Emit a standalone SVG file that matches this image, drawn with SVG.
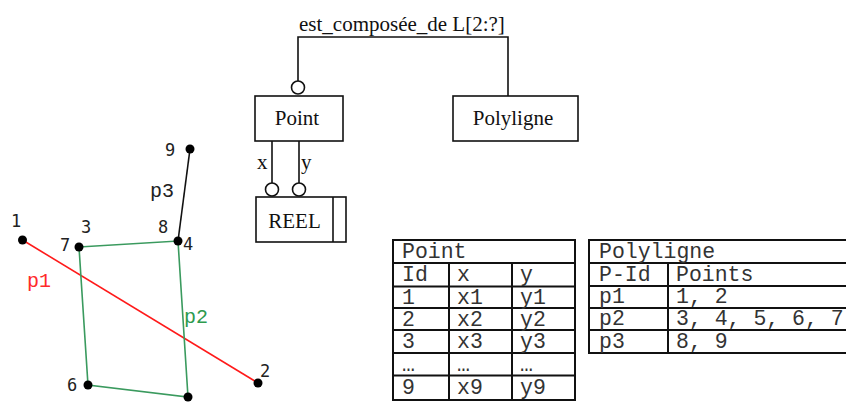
<svg xmlns="http://www.w3.org/2000/svg" width="846" height="403" viewBox="0 0 846 403">
  <style>
    .er { font-family: "Liberation Serif", serif; font-size: 21px; fill: #111; }
    .box { fill: #fff; stroke: #111; stroke-width: 1.6; }
    .wire { fill: none; stroke: #111; stroke-width: 1.6; }
    .opt { fill: #fff; stroke: #111; stroke-width: 1.6; }
    .tbl { font-family: "Liberation Mono", monospace; font-size: 21.5px; fill: #333; }
    .grid { fill: none; stroke: #111; stroke-width: 2; }
    .num { font-family: "DejaVu Sans Mono", monospace; font-size: 17px; fill: #222; }
    .pl { font-family: "Liberation Mono", monospace; font-size: 20px; }
    .dot { fill: #000; }
  </style>

  <!-- EXPRESS-G schema: connectors -->
  <g id="connectors">
    <polyline class="wire" points="298,81 298,37 508,37 508,96"/>
    <circle class="opt" cx="298" cy="87.5" r="6.5"/>
    <line class="wire" x1="272" y1="141" x2="272" y2="183"/>
    <line class="wire" x1="299" y1="141" x2="299" y2="183"/>
    <circle class="opt" cx="272" cy="189.5" r="6.5"/>
    <circle class="opt" cx="299" cy="189.5" r="6.5"/>
    <text class="er" x="299" y="31">est_composée_de L[2:?]</text>
    <text class="er" x="257" y="169">x</text>
    <text class="er" x="301" y="169">y</text>
  </g>

  <g id="point-entity">
    <rect class="box" x="255" y="96" width="88" height="45"/>
    <text class="er" x="297" y="125" text-anchor="middle">Point</text>
  </g>

  <g id="polyligne-entity">
    <rect class="box" x="453" y="96" width="125" height="45"/>
    <text class="er" x="513" y="125" text-anchor="middle">Polyligne</text>
  </g>

  <g id="reel-type">
    <rect class="box" x="256" y="197" width="90" height="45"/>
    <line class="wire" x1="333" y1="197" x2="333" y2="242"/>
    <text class="er" x="294.5" y="228" text-anchor="middle">REEL</text>
  </g>

  <!-- geometric example: polylines p1, p2, p3 -->
  <g id="geometry">
    <line x1="22.5" y1="240" x2="258" y2="383" stroke="#ff1a1a" stroke-width="1.6"/>
    <polygon points="79,247 178,241 188,397 88,385" fill="none" stroke="#3a9a5e" stroke-width="1.6"/>
    <line x1="178" y1="241" x2="190" y2="149" stroke="#111" stroke-width="1.6"/>
    <circle class="dot" cx="22.5" cy="240" r="4.5"/>
    <circle class="dot" cx="258" cy="383" r="4.5"/>
    <circle class="dot" cx="79" cy="247" r="4.5"/>
    <circle class="dot" cx="178" cy="241" r="4.5"/>
    <circle class="dot" cx="188" cy="397" r="4.5"/>
    <circle class="dot" cx="88" cy="385" r="4.5"/>
    <circle class="dot" cx="190" cy="149" r="4.5"/>
    <text class="num" x="11" y="227">1</text>
    <text class="num" x="260" y="377">2</text>
    <text class="num" x="81" y="233">3</text>
    <text class="num" x="183" y="250">4</text>
    <text class="num" x="67" y="391">6</text>
    <text class="num" x="60" y="251">7</text>
    <text class="num" x="158" y="233">8</text>
    <text class="num" x="165" y="156">9</text>
    <text class="pl" x="27" y="287" fill="#ff2a2a">p1</text>
    <text class="pl" x="184" y="323" fill="#2e9a4e">p2</text>
    <text class="pl" x="150" y="197" fill="#222">p3</text>
  </g>

  <!-- relational table Point -->
  <g id="table-point">
    <rect class="grid" x="393" y="240" width="182" height="160"/>
    <path class="grid" d="M393,263 H575 M393,286.5 H575 M393,308 H575 M393,330 H575 M393,353 H575 M393,375.5 H575 M449,263 V400 M512,263 V400"/>
    <text class="tbl" x="402" y="258">Point</text>
    <text class="tbl" x="402" y="281">Id</text>
    <text class="tbl" x="457" y="281">x</text>
    <text class="tbl" x="520" y="281">y</text>
    <text class="tbl" x="402" y="304">1</text>
    <text class="tbl" x="457" y="304">x1</text>
    <text class="tbl" x="520" y="304">y1</text>
    <text class="tbl" x="402" y="326">2</text>
    <text class="tbl" x="457" y="326">x2</text>
    <text class="tbl" x="520" y="326">y2</text>
    <text class="tbl" x="402" y="348">3</text>
    <text class="tbl" x="457" y="348">x3</text>
    <text class="tbl" x="520" y="348">y3</text>
    <text class="tbl" x="402" y="371">…</text>
    <text class="tbl" x="457" y="371">…</text>
    <text class="tbl" x="520" y="371">…</text>
    <text class="tbl" x="402" y="394">9</text>
    <text class="tbl" x="457" y="394">x9</text>
    <text class="tbl" x="520" y="394">y9</text>
  </g>

  <!-- relational table Polyligne -->
  <g id="table-polyligne">
    <path class="grid" d="M860,240 H589 V353 H860 M589,263 H860 M589,286 H860 M589,308 H860 M589,330 H860 M668,263 V353"/>
    <text class="tbl" x="599" y="258">Polyligne</text>
    <text class="tbl" x="599" y="281">P-Id</text>
    <text class="tbl" x="676" y="281">Points</text>
    <text class="tbl" x="599" y="303">p1</text>
    <text class="tbl" x="676" y="303">1, 2</text>
    <text class="tbl" x="599" y="325">p2</text>
    <text class="tbl" x="676" y="325">3, 4, 5, 6, 7</text>
    <text class="tbl" x="599" y="348">p3</text>
    <text class="tbl" x="676" y="348">8, 9</text>
  </g>
</svg>
